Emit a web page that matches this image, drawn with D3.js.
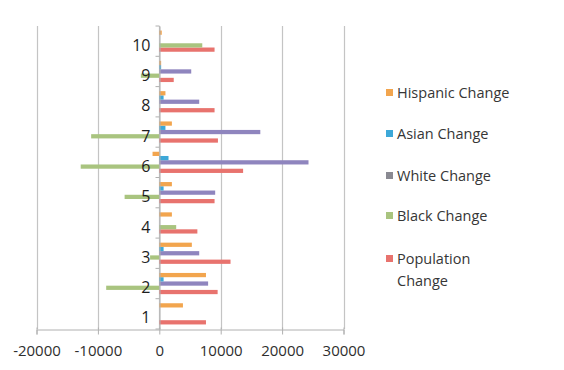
<!DOCTYPE html>
<html><head><meta charset="utf-8">
<script src="https://cdn.jsdelivr.net/npm/d3@7"></script>
<style>html,body{margin:0;padding:0;background:#fff;}svg{display:block;}</style>
</head><body>
<script>
const categories = ["1","2","3","4","5","6","7","8","9","10"];
const populationChange = [7600, 9500, 11600, 6200, 9000, 13650, 9550, 9000, 2350, 9000];
const blackChange      = [0, -8650, -1500, 2750, -5650, -12800, -11100, 0, -3000, 7000];
const whiteChange      = [0, 7950, 6500, 0, 9100, 24300, 16450, 6500, 5200, 0];
const asianChange      = [0, 700, 700, 0, 700, 1500, 1000, 700, 300, 0];
const hispanicChange   = [3850, 7600, 5300, 2050, 2050, -1100, 2050, 1000, 300, 400];
const xTicks = [-20000, -10000, 0, 10000, 20000, 30000];
const seriesNames = ["Population Change","Black Change","White Change","Asian Change","Hispanic Change"];

const series = [
  {name: seriesNames[0], values: populationChange, color: "#E8736E", legend: "#E8736E"},
  {name: seriesNames[1], values: blackChange, color: "#A9C47F", legend: "#A9C47F"},
  {name: seriesNames[2], values: whiteChange, color: "#8F85BE", legend: "#8A8A92"},
  {name: seriesNames[3], values: asianChange, color: "#3DA8D8", legend: "#3DA8D8"},
  {name: seriesNames[4], values: hispanicChange, color: "#F2A54E", legend: "#F2A54E"}
];

const W = 564, H = 370;
const svg = d3.select("body").append("svg").attr("width", W).attr("height", H);
const font = "'Open Sans', sans-serif";

const x = d3.scaleLinear().domain([-20000, 30000]).range([36.5, 343.5]);
const y = d3.scaleBand().domain(categories).range([329, 26]).paddingInner(0.3).paddingOuter(0.15);
const yi = d3.scaleBand().domain(seriesNames).range([y.bandwidth(), 0]);

// gridlines
svg.append("g").selectAll("line").data(xTicks).join("line")
  .attr("x1", d => Math.round(x(d)) + 0.5).attr("x2", d => Math.round(x(d)) + 0.5)
  .attr("y1", 26).attr("y2", 329)
  .attr("stroke", "#C4C4C4").attr("stroke-width", 1.2);

// bars
const g = svg.append("g");
series.forEach(s => {
  g.append("g").selectAll("rect").data(categories).join("rect")
    .attr("x", (c, i) => x(Math.min(0, s.values[i])))
    .attr("width", (c, i) => Math.abs(x(s.values[i]) - x(0)))
    .attr("y", c => y(c) + yi(s.name))
    .attr("height", yi.bandwidth())
    .attr("fill", s.color);
});

// bottom axis
const xAxis = d3.axisBottom(x).tickValues(xTicks).tickSize(5).tickFormat(d => String(d));
const ax = svg.append("g").attr("transform", "translate(0,329.5)").call(xAxis);
ax.select(".domain").attr("stroke", "#B0B0B0");
ax.selectAll(".tick line").attr("stroke", "#B0B0B0").attr("y1", -2);
ax.selectAll(".tick text").attr("font-family", font).attr("font-size", 15)
  .attr("fill", "#2e2e2e").attr("dy", "0.32em").attr("y", 22);

// vertical category axis at 0
const yAxis = d3.axisLeft(y).tickSize(0).tickPadding(9);
const ay = svg.append("g").attr("transform", `translate(${Math.round(x(0)) + 0.5},0)`).call(yAxis);
ay.select(".domain").attr("stroke", "#B0B0B0");
ay.selectAll(".tick text").attr("font-family", font).attr("font-size", 16)
  .attr("fill", "#1e1e1e").attr("dy", "0.6em");
const bounds = categories.map(c => y(c) + y.bandwidth() + y.step() * y.paddingInner() / 2).concat([y(categories[9]) - y.step() * y.paddingInner() / 2]);
ay.append("g").selectAll("line").data(bounds).join("line")
  .attr("x1", -4).attr("x2", 0).attr("y1", d => d).attr("y2", d => d)
  .attr("stroke", "#B0B0B0");

// legend
const legendItems = [series[4], series[3], series[2], series[1], series[0]];
const legendY = [93, 134, 176, 216, 259];
const lg = svg.append("g");
legendItems.forEach((s, i) => {
  const ly = legendY[i];
  lg.append("rect").attr("x", 386).attr("y", ly - 4).attr("width", 7).attr("height", 7).attr("fill", s.legend);
  const words = s.name === "Population Change" ? ["Population", "Change"] : [s.name];
  words.forEach((w, j) => {
    lg.append("text").attr("x", 397).attr("y", ly + j * 22).attr("dy", "0.35em")
      .attr("font-family", font).attr("font-size", 14.5).attr("fill", "#363636").text(w);
  });
});
</script>
</body></html>
